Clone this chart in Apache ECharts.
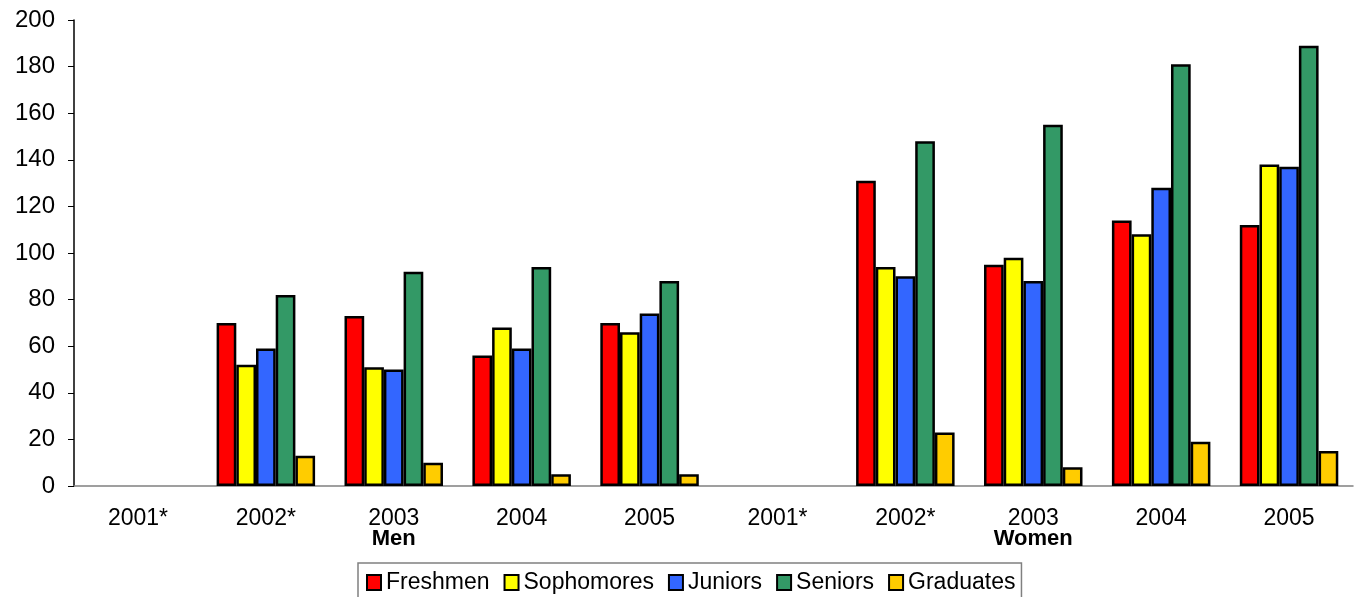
<!DOCTYPE html>
<html><head><meta charset="utf-8">
<script src="https://cdn.jsdelivr.net/npm/echarts@6/dist/echarts.min.js"></script>
<style>html,body{margin:0;padding:0;background:#fff}#c{width:1355px;height:597px}</style>
</head><body><div id="c"></div>
<script>
const categories = ['2001*','2002*','2003','2004','2005','2001*','2002*','2003','2004','2005'];
const groupLabels = ['', '', 'Men', '', '', '', '', 'Women', '', ''];
const freshmen   = [null, 70, 73, 56, 70, null, 131, 95, 114, 112];
const sophomores = [null, 52, 51, 68, 66, null, 94, 98, 108, 138];
const juniors    = [null, 59, 50, 59, 74, null, 90, 88, 128, 137];
const seniors    = [null, 82, 92, 94, 88, null, 148, 155, 181, 189];
const graduates  = [null, 13, 10, 5, 5, null, 23, 8, 19, 15];
const yTicks = {min: 0, max: 200, interval: 20};

const names = ['Freshmen','Sophomores','Juniors','Seniors','Graduates'];
const colors = ['#FF0000','#FFFF00','#3366FF','#339966','#FFCC00'];
const values = [freshmen, sophomores, juniors, seniors, graduates];
const font = '"Liberation Sans", Arial, sans-serif';

const chart = echarts.init(document.getElementById('c'));
chart.setOption({
  animation: false,
  textStyle: {fontFamily: font},
  grid: {left: 74, right: 2, top: 20, bottom: 111},
  legend: {
    left: 358, top: 563,
    padding: [8, 6, 8, 8],
    borderColor: '#808080', borderWidth: 1.5,
    icon: 'rect',
    itemWidth: 14, itemHeight: 15, itemGap: 14,
    textStyle: {fontSize: 23, color: '#000', fontFamily: font},
    data: names
  },
  xAxis: {
    type: 'category', data: categories,
    axisLine: {lineStyle: {color: '#808080', width: 1.5}},
    axisTick: {length: 7, lineStyle: {color: '#000'}},
    axisLabel: {
      margin: 23, color: '#000', fontSize: 23, lineHeight: 20, interval: 0,
      formatter: (v, i) => groupLabels[i] ? v + '\n{b|' + groupLabels[i] + '}' : v,
      rich: {b: {fontWeight: 'bold', fontSize: 22, lineHeight: 20, color: '#000'}}
    }
  },
  yAxis: {
    type: 'value', min: yTicks.min, max: yTicks.max, interval: yTicks.interval,
    splitLine: {show: false},
    axisLine: {show: true, lineStyle: {color: '#000', width: 1.5}},
    axisTick: {show: true, length: 6, lineStyle: {color: '#000'}},
    axisLabel: {margin: 19, color: '#000', fontSize: 24}
  },
  series: names.map((n, i) => ({
    name: n, type: 'bar', data: values[i],
    barGap: '0%', barCategoryGap: '23%',
    itemStyle: {color: colors[i], borderColor: '#000', borderWidth: 2.5}
  }))
});
</script></body></html>
